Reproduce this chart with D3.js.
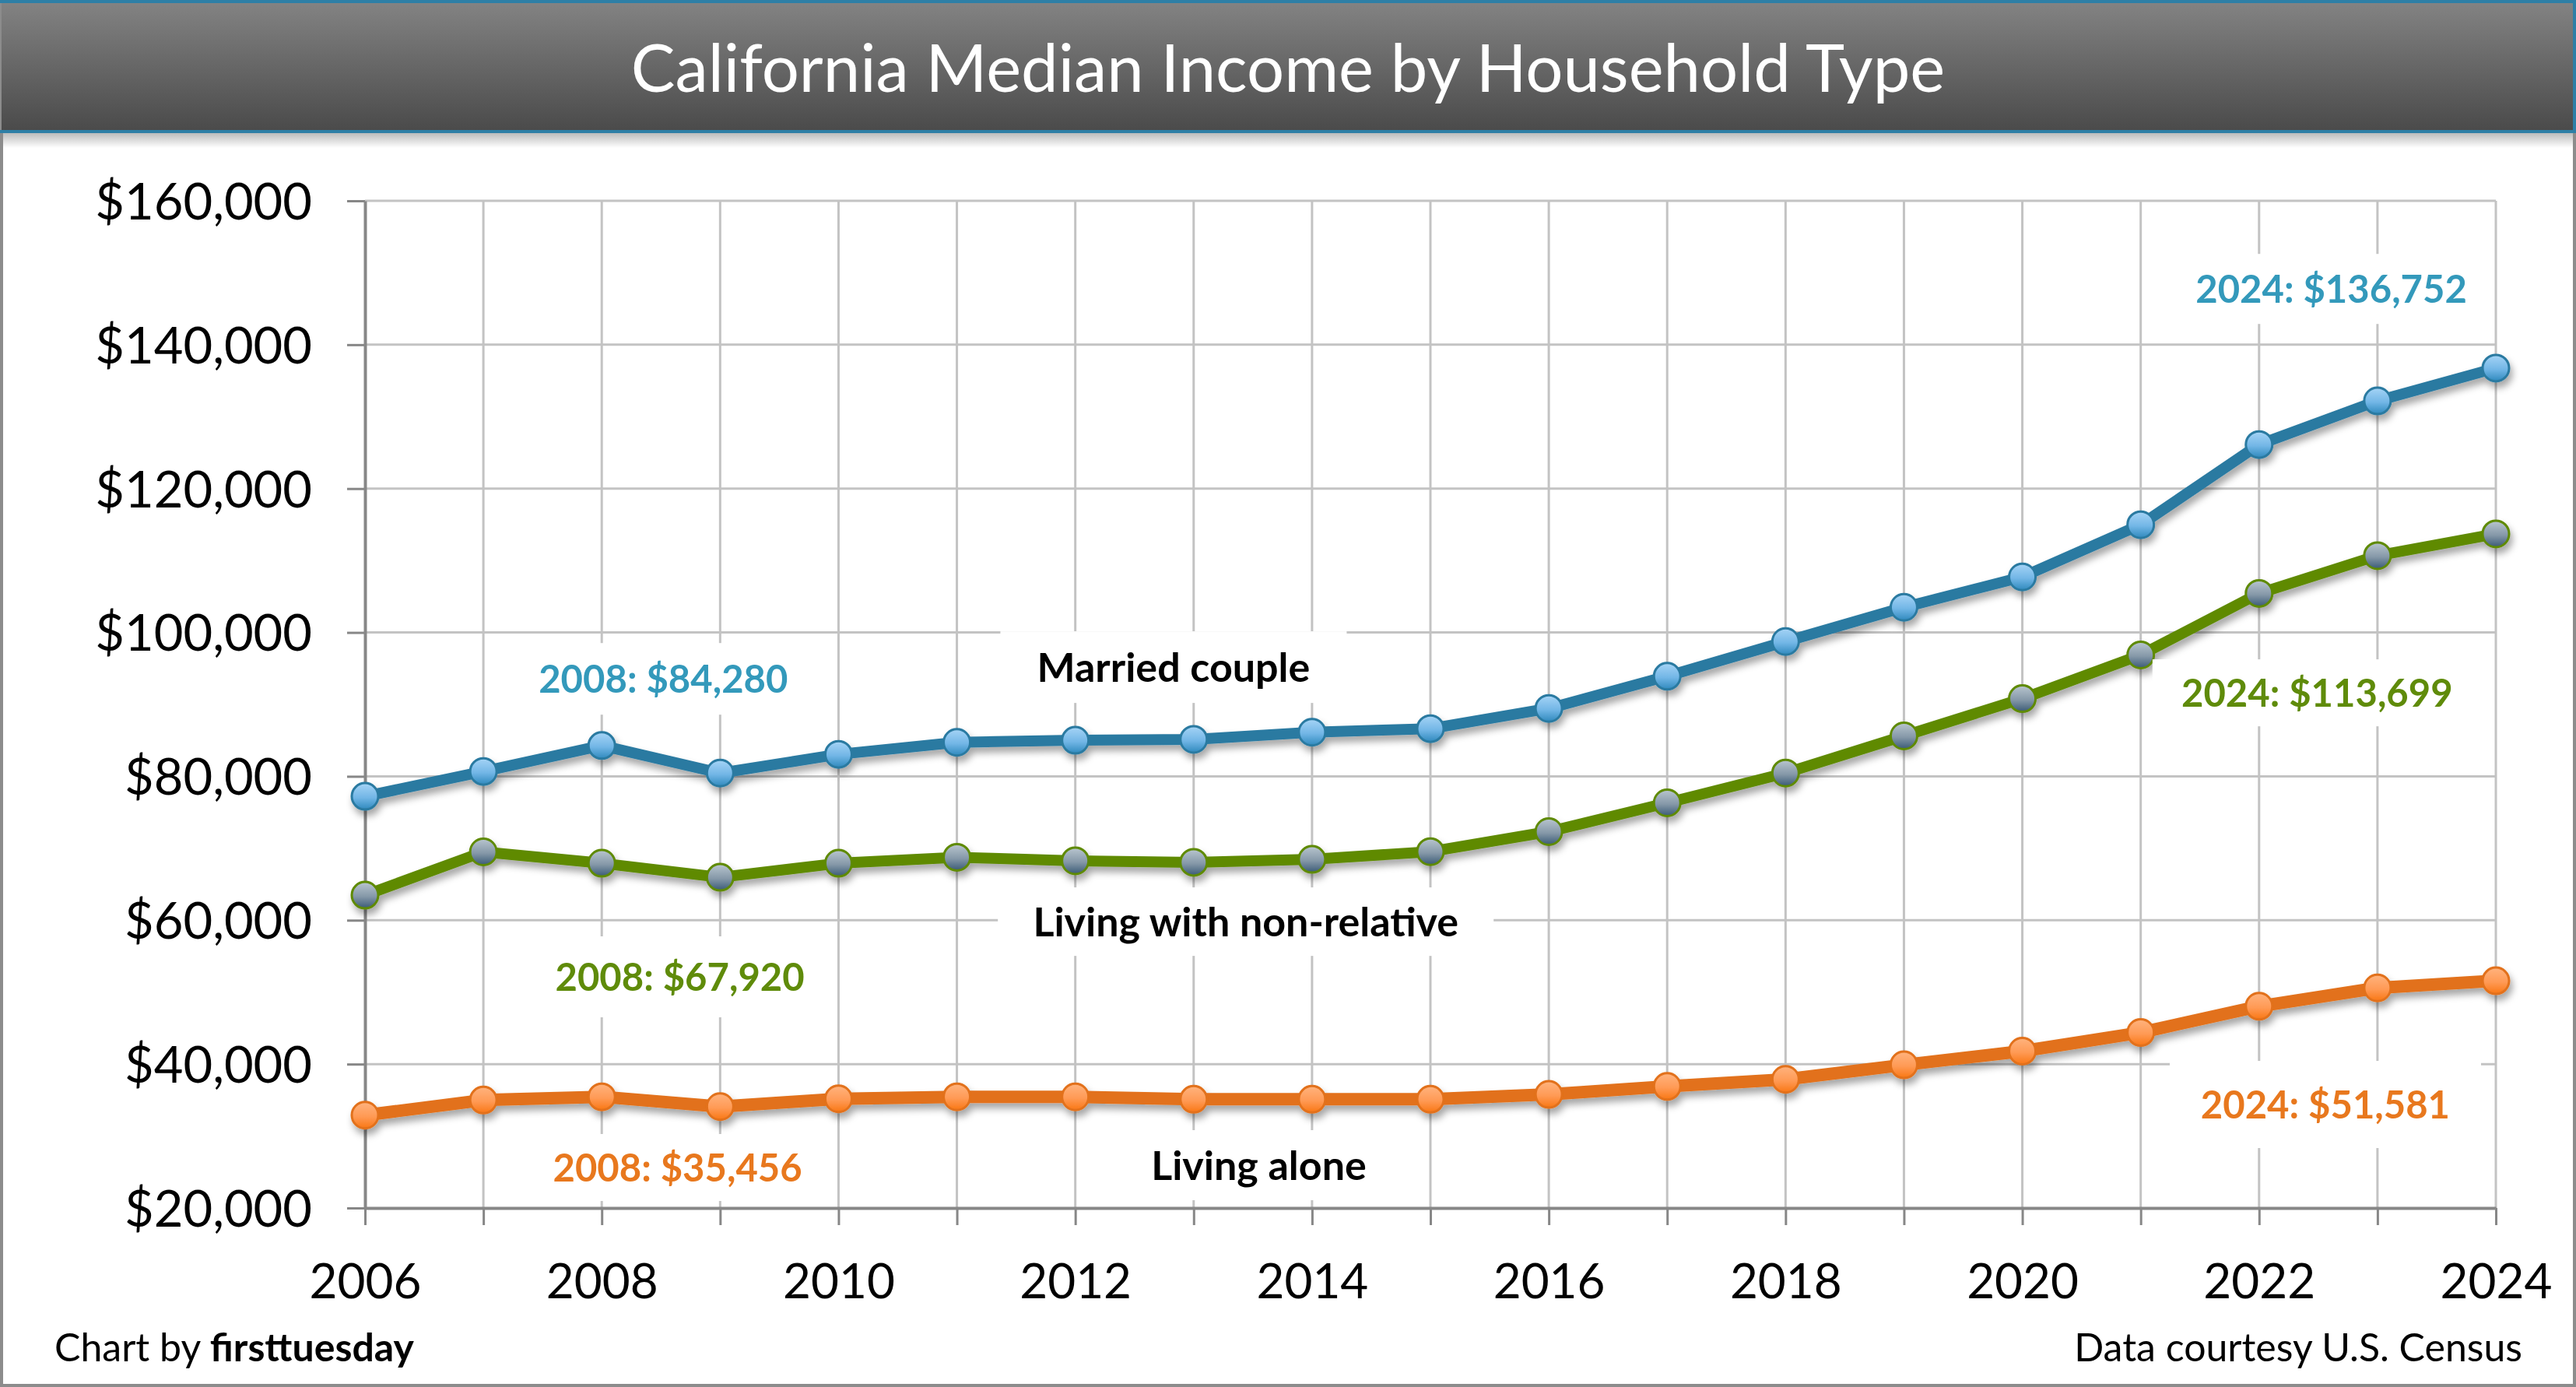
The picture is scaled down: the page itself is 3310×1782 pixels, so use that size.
<!DOCTYPE html>
<html>
<head>
<meta charset="utf-8">
<script src="https://cdn.jsdelivr.net/npm/d3@7"></script>
<style>
  body { margin: 0; background: #fff; }
  svg { display: block; font-family: Lato, "Open Sans", sans-serif; }
</style>
</head>
<body>
<div class="content"></div>
<script>
// data
var years = d3.range(2006, 2025);
var married = [77220, 80680, 84280, 80450, 83060, 84730, 85010, 85140, 86130, 86630,
               89440, 93910, 98740, 103500, 107720, 114970, 126120, 132190, 136752];
var nonRelative = [63480, 69500, 67920, 65970, 67920, 68750, 68260, 68050, 68460, 69530,
                   72310, 76310, 80460, 85620, 90800, 96870, 105430, 110670, 113699];
var alone = [32900, 35000, 35456, 34090, 35170, 35450, 35440, 35110, 35110, 35110,
             35790, 36900, 37880, 39900, 41800, 44390, 48040, 50590, 51581];
var yTicks = [20000, 40000, 60000, 80000, 100000, 120000, 140000, 160000];
var xLabelYears = [2006, 2008, 2010, 2012, 2014, 2016, 2018, 2020, 2022, 2024];

var W = 3310, H = 1782;
var svg = d3.select('.content').append('svg').attr('width', W).attr('height', H);
var defs = svg.append('defs');

function vGrad(id, stops) {
  var g = defs.append('linearGradient').attr('id', id)
    .attr('x1', 0).attr('y1', 0).attr('x2', 0).attr('y2', 1);
  stops.forEach(function (s) { g.append('stop').attr('offset', s[0]).attr('stop-color', s[1]); });
}
vGrad('titleGrad', [[0, '#838383'], [1, '#4a4a4a']]);
vGrad('shadeGrad', [[0, 'rgba(0,0,0,0.28)'], [1, 'rgba(0,0,0,0)']]);
vGrad('blueDot', [[0, '#a6d4f6'], [0.55, '#72b6e6'], [1, '#2f89bd']]);
vGrad('greenDot', [[0, '#b9c6cf'], [0.55, '#8598a8'], [1, '#3a5a76']]);
vGrad('orangeDot', [[0, '#ffb37e'], [0.55, '#ff9a55'], [1, '#f97714']]);

var shadow = defs.append('filter').attr('id', 'shadow')
  .attr('x', '-10%').attr('y', '-10%').attr('width', '120%').attr('height', '130%');
shadow.append('feDropShadow').attr('dx', 3).attr('dy', 7).attr('stdDeviation', 5)
  .attr('flood-color', '#000').attr('flood-opacity', 0.35);

// frame
svg.append('rect').attr('x', 0).attr('y', 0).attr('width', W).attr('height', H).attr('fill', '#fff');
svg.append('rect').attr('x', 2).attr('y', 170).attr('width', W - 4).attr('height', 20).attr('fill', 'url(#shadeGrad)');
svg.append('rect').attr('x', 2).attr('y', 2).attr('width', W - 4).attr('height', H - 4)
  .attr('fill', 'none').attr('stroke', '#8c8c8c').attr('stroke-width', 4);
svg.append('rect').attr('x', 2).attr('y', 2).attr('width', W - 4).attr('height', 167)
  .attr('fill', 'url(#titleGrad)');
svg.append('line').attr('x1', 0).attr('x2', W).attr('y1', 2).attr('y2', 2).attr('stroke', '#2e7fa6').attr('stroke-width', 4);
svg.append('line').attr('x1', 0).attr('x2', W).attr('y1', 169).attr('y2', 169).attr('stroke', '#2e7fa6').attr('stroke-width', 4);
svg.append('line').attr('x1', W - 2).attr('x2', W - 2).attr('y1', 0).attr('y2', 170).attr('stroke', '#2e7fa6').attr('stroke-width', 4);

svg.append('text').attr('x', W / 2).attr('y', 118).attr('text-anchor', 'middle')
  .attr('fill', '#fff').attr('font-size', 85).text('California Median Income by Household Type');

// scales
var x = d3.scaleLinear().domain([2006, 2024]).range([469, 3207]);
var y = d3.scaleLinear().domain([20000, 160000]).range([1552, 258]);

// gridlines
var grid = svg.append('g').attr('stroke', '#c3c3c3').attr('stroke-width', 3);
grid.selectAll('.hg').data(yTicks.slice(1)).enter().append('line')
  .attr('x1', x(2006)).attr('x2', x(2024)).attr('y1', y).attr('y2', y);
grid.selectAll('.vg').data(years.slice(1)).enter().append('line')
  .attr('x1', x).attr('x2', x).attr('y1', y(160000)).attr('y2', y(20000));

// annotations: text, colour, centre in data space, white box size
var notes = [
  { t: '2008: $84,280', c: '#3399bb', yr: 2008.52, v: 93550, bw: 380, bh: 92, fs: 49 },
  { t: 'Married couple', c: '#000', yr: 2012.83, v: 95180, bw: 445, bh: 92, fs: 52 },
  { t: '2024: $136,752', c: '#3399bb', yr: 2022.61, v: 147750, bw: 410, bh: 90, fs: 49 },
  { t: 'Living with non-relative', c: '#000', yr: 2013.44, v: 59800, bw: 637, bh: 88, fs: 52 },
  { t: '2008: $67,920', c: '#5f8b0a', yr: 2008.66, v: 52130, bw: 380, bh: 104, fs: 49 },
  { t: '2024: $113,699', c: '#5f8b0a', yr: 2022.49, v: 91610, bw: 423, bh: 86, fs: 49 },
  { t: '2008: $35,456', c: '#e8781e', yr: 2008.64, v: 25630, bw: 380, bh: 86, fs: 49 },
  { t: 'Living alone', c: '#000', yr: 2013.55, v: 25950, bw: 432, bh: 90, fs: 52 },
  { t: '2024: $51,581', c: '#e8781e', yr: 2022.56, v: 34390, bw: 400, bh: 112, fs: 49 }
];
var noteG = svg.append('g');
noteG.selectAll('rect').data(notes).enter().append('rect')
  .attr('x', function (d) { return x(d.yr) - d.bw / 2; })
  .attr('y', function (d) { return y(d.v) - d.bh / 2; })
  .attr('width', function (d) { return d.bw; })
  .attr('height', function (d) { return d.bh; })
  .attr('fill', '#fff');

// axes
var yAxis = d3.axisLeft(y).tickValues(yTicks).tickSize(23).tickSizeOuter(0).tickPadding(45)
  .tickFormat(function (v) { return '$' + d3.format(',')(v); });
var gy = svg.append('g').attr('transform', 'translate(' + x(2006) + ',0)').call(yAxis);
var xAxis = d3.axisBottom(x).tickValues(years).tickSize(22).tickSizeOuter(0)
  .tickFormat(function (v) { return xLabelYears.indexOf(v) >= 0 ? String(v) : ''; });
var gx = svg.append('g').attr('transform', 'translate(0,' + y(20000) + ')').call(xAxis);
[gx, gy].forEach(function (g) {
  g.select('.domain').attr('stroke', '#878787').attr('stroke-width', 4);
  g.selectAll('.tick line').attr('stroke', '#878787').attr('stroke-width', 3);
  g.selectAll('.tick text').attr('font-family', 'Lato, sans-serif').attr('fill', '#000');
});
gy.selectAll('.tick text').attr('font-size', 65).attr('dy', '0.36em');
gx.selectAll('.tick text').attr('font-size', 62).attr('y', 116).attr('dy', 0);

// series
var series = [
  { vals: married, line: '#2a7aa1', dot: 'url(#blueDot)', w: 14 },
  { vals: nonRelative, line: '#5e8a06', dot: 'url(#greenDot)', w: 14 },
  { vals: alone, line: '#e2711a', dot: 'url(#orangeDot)', w: 16 }
];
var lineGen = d3.line().x(function (d, i) { return x(years[i]); }).y(function (d) { return y(d); });
series.forEach(function (s) {
  var g = svg.append('g').attr('filter', 'url(#shadow)');
  g.append('path').attr('d', lineGen(s.vals)).attr('fill', 'none')
    .attr('stroke', s.line).attr('stroke-width', s.w).attr('stroke-linejoin', 'round');
  g.selectAll('circle').data(s.vals).enter().append('circle')
    .attr('cx', function (d, i) { return x(years[i]); })
    .attr('cy', function (d) { return y(d); })
    .attr('r', 17)
    .attr('fill', s.dot).attr('stroke', s.line).attr('stroke-width', 3);
});

// annotation text
noteG.selectAll('text').data(notes).enter().append('text')
  .attr('x', function (d) { return x(d.yr); })
  .attr('y', function (d) { return y(d.v) + 0.36 * d.fs; })
  .attr('text-anchor', 'middle').attr('font-weight', 'bold')
  .attr('font-size', function (d) { return d.fs; })
  .attr('fill', function (d) { return d.c; })
  .text(function (d) { return d.t; });
svg.node().appendChild(noteG.node());

// footer
var foot = svg.append('text').attr('x', 70).attr('y', 1749).attr('font-size', 50).attr('fill', '#000');
foot.append('tspan').text('Chart by ');
foot.append('tspan').attr('font-weight', 'bold').text('firsttuesday');
svg.append('text').attr('x', 3241).attr('y', 1749).attr('text-anchor', 'end')
  .attr('font-size', 50).attr('fill', '#000').text('Data courtesy U.S. Census');
</script>
</body>
</html>
